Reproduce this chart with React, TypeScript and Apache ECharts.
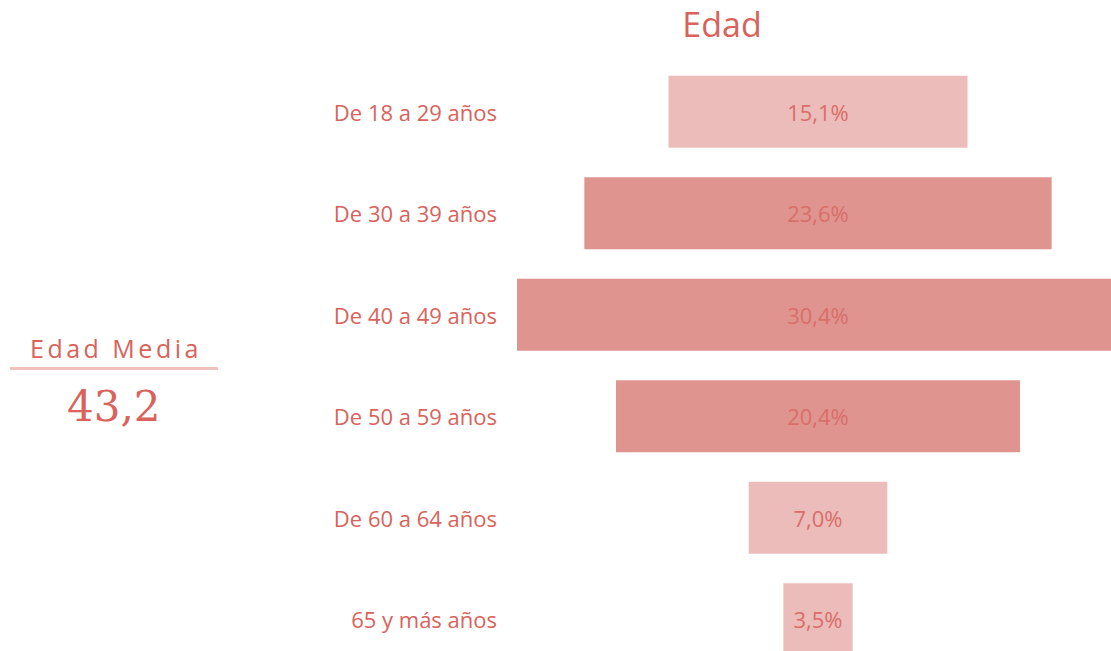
import React, { useEffect, useRef } from "react";
import * as echarts from "echarts";

const categories = [
  "De 18 a 29 años",
  "De 30 a 39 años",
  "De 40 a 49 años",
  "De 50 a 59 años",
  "De 60 a 64 años",
  "65 y más años",
];
const values = [15.1, 23.6, 30.4, 20.4, 7.0, 3.5];
const highlighted = [false, true, true, true, false, false];
const meanLabel = "Edad Media";
const meanValue = "43,2";
const title = "Edad";

const TEXT = "#D9625B";
const DARK = "#E0948F";
const LIGHT = "#ECBCBA";
const FONT = "'Open Sans', 'Noto Sans', sans-serif";

function spacedChars(text: string, x: number, y: number, font: string, spacing: number, fill: string) {
  const c = document.createElement("canvas").getContext("2d")!;
  c.font = font;
  const out: any[] = [];
  let cx = x;
  for (const ch of text) {
    out.push({ type: "text", x: cx, y, style: { text: ch, fill, font, textBaseline: "top" } });
    cx += c.measureText(ch).width + spacing;
  }
  return out;
}

export default function App() {
  const ref = useRef<HTMLDivElement>(null);
  useEffect(() => {
    document.body.style.margin = "0";
    const chart = echarts.init(ref.current!, null, { renderer: "svg" });
    const maxV = Math.max(...values);
    const labelFont = `25px ${FONT}`;
    chart.setOption({
      animation: false,
      backgroundColor: "#ffffff",
      title: {
        text: title,
        left: 717,
        top: 2,
        textAlign: "center",
        textStyle: { color: TEXT, fontSize: 34, fontWeight: "normal", fontFamily: FONT },
      },
      grid: { left: 517, right: -8, top: 61, bottom: -19, outerBoundsMode: "none", containLabel: false },
      xAxis: { type: "value", min: 0, max: maxV, show: false },
      yAxis: {
        type: "category",
        data: categories,
        inverse: true,
        axisLine: { show: false },
        axisTick: { show: false },
        splitLine: { show: false },
        axisLabel: { color: TEXT, fontSize: 22, margin: 20, fontFamily: FONT },
      },
      series: [
        {
          type: "bar",
          stack: "s",
          silent: true,
          barWidth: 72,
          itemStyle: { color: "transparent" },
          data: values.map((v) => (maxV - v) / 2),
        },
        {
          type: "bar",
          stack: "s",
          barWidth: 72,
          data: values.map((v, i) => ({
            value: v,
            itemStyle: { color: highlighted[i] ? DARK : LIGHT },
          })),
          label: {
            show: true,
            position: "inside",
            color: "#D96E69",
            fontSize: 22,
            fontFamily: FONT,
            formatter: (p: any) => p.value.toFixed(1).replace(".", ",") + "%",
          },
        },
      ],
      graphic: [
        {
          type: "group",
          children: spacedChars(meanLabel, 30, 335, labelFont, 3.5, TEXT),
        },
        {
          type: "rect",
          shape: { x: 10, y: 367, width: 208, height: 3 },
          style: { fill: "#EFC0BC" },
        },
        {
          type: "text",
          left: 67,
          top: 385,
          style: {
            text: meanValue,
            fill: TEXT,
            font: `42px 'DejaVu Serif', 'Liberation Serif', serif`,
          },
        },
      ],
    });
    return () => chart.dispose();
  }, []);
  return <div ref={ref} style={{ width: 1111, height: 651 }} />;
}
